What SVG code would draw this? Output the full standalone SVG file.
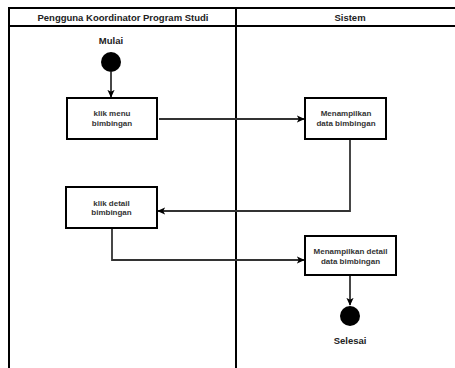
<svg xmlns="http://www.w3.org/2000/svg" width="455" height="368" viewBox="0 0 455 368">
<style>
.lane{fill:none;stroke:#000;stroke-width:2}
.box{fill:#fff;stroke:#000;stroke-width:2}
.edge{fill:none;stroke:#333;stroke-width:1.8}
.hdr{font-family:"Liberation Sans",Arial,sans-serif;font-size:9.5px;font-weight:bold;fill:#222;text-anchor:middle}
.lbl{font-family:"Liberation Sans",Arial,sans-serif;font-size:8px;font-weight:bold;fill:#333;text-anchor:middle}
</style>
<defs>
<marker id="arr" viewBox="0 0 10 10" refX="9" refY="5" markerWidth="8" markerHeight="8" orient="auto" markerUnits="userSpaceOnUse">
<path d="M0,0.5 L10,5 L0,9.5 L2.5,5 Z" fill="#000"/>
</marker>
</defs>
<rect width="455" height="368" fill="#fff"/>
<g id="pool">
<path class="lane" d="M9,370 V8 H460 M9,26 H460 M236,8 V370"/>
<text class="hdr" x="123" y="20.5">Pengguna Koordinator Program Studi</text>
<text class="hdr" x="350" y="20.5">Sistem</text>
</g>
<g id="edges">
<path class="edge" d="M111,72 V97" marker-end="url(#arr)"/>
<path class="edge" d="M159,119 H304" marker-end="url(#arr)"/>
<path class="edge" d="M350,140 V211 H158" marker-end="url(#arr)"/>
<path class="edge" d="M112,229 V260 H304" marker-end="url(#arr)"/>
<path class="edge" d="M350,276 V305" marker-end="url(#arr)"/>
</g>
<g id="start">
<circle cx="111" cy="62" r="10" fill="#000"/>
<text class="hdr" x="111" y="44">Mulai</text>
</g>
<g id="klik-menu">
<rect class="box" x="67" y="98" width="90" height="41"/>
<text class="lbl" x="112" y="116">klik menu</text>
<text class="lbl" x="112" y="125.5">bimbingan</text>
</g>
<g id="tampil-data">
<rect class="box" x="305" y="98" width="81" height="41"/>
<text class="lbl" x="346" y="116">Menampilkan</text>
<text class="lbl" x="346" y="125.5">data bimbingan</text>
</g>
<g id="klik-detail">
<rect class="box" x="66" y="187" width="91" height="41"/>
<text class="lbl" x="111.5" y="205.5">klik detail</text>
<text class="lbl" x="111.5" y="215">bimbingan</text>
</g>
<g id="tampil-detail">
<rect class="box" x="305" y="236" width="91" height="39"/>
<text class="lbl" x="350.5" y="254">Menampilkan detail</text>
<text class="lbl" x="350.5" y="263.5">data bimbingan</text>
</g>
<g id="end">
<circle cx="350" cy="316" r="10" fill="#000"/>
<text class="hdr" x="350" y="344">Selesai</text>
</g>
</svg>
